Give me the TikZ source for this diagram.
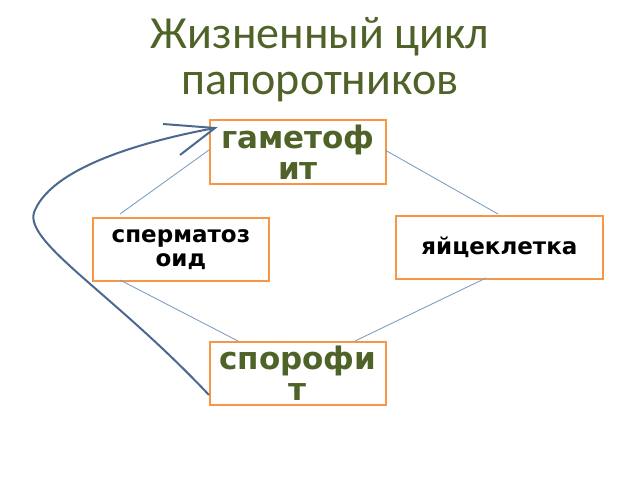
\documentclass[tikz,border=0pt]{standalone}
\usepackage{fontspec}
\setmainfont{DejaVu Sans}
\newfontfamily\titlefont{Carlito}
\definecolor{olive}{HTML}{4F6228}
\definecolor{boxor}{HTML}{F79646}
\definecolor{lncol}{HTML}{7F9FC4}
\definecolor{arr}{HTML}{4A6890}
\begin{document}
\begin{tikzpicture}[x=1pt,y=-1pt,
  bx/.style={draw=boxor,line width=1.8pt,fill=white,inner sep=0pt,align=center,font=\bfseries},
  ln/.style={draw=lncol,line width=0.9pt}]
\useasboundingbox (0,0) rectangle (640,480);
\node[text=olive,font=\titlefont\fontsize{46}{46}\selectfont,align=center] (title) at (320,60) {Жизненный цикл\\папоротников};
\node[bx,minimum width=176pt,minimum height=64pt,text=olive,font=\bfseries\fontsize{31}{31}\selectfont,anchor=north west,text width=176pt] (g) at (209,119) {гаметоф\\ит};
\node[bx,minimum width=176pt,minimum height=63pt,font=\bfseries\fontsize{23}{24}\selectfont,anchor=north west,text width=176pt] (s) at (92,217) {сперматоз\\оид};
\node[bx,minimum width=207pt,minimum height=63pt,font=\bfseries\fontsize{23}{24}\selectfont,anchor=north west] (e) at (395,215) {яйцеклетка};
\node[bx,minimum width=176pt,minimum height=63pt,text=olive,font=\bfseries\fontsize{31}{31}\selectfont,anchor=north west,text width=176pt] (p) at (209,341) {спорофи\\т};
\coordinate (g1) at (209,150); \coordinate (s1) at (120,214);
\coordinate (g2) at (385,150); \coordinate (e1) at (498,214);
\coordinate (s2) at (120,280); \coordinate (p1) at (238,341);
\coordinate (e2) at (486,278); \coordinate (p2) at (355,341);
\draw[ln] (g1) -- (s1);
\draw[ln] (g2) -- (e1);
\draw[ln] (s2) -- (p1);
\draw[ln] (e2) -- (p2);
\coordinate (ps) at (209,395); \coordinate (tip) at (215,128);
\coordinate (a1) at (163,124); \coordinate (a2) at (180,155);
\draw[arr,line width=2pt] (ps) .. controls (110,290) and (20,240) .. (35,210) .. controls (55,165) and (150,140) .. (tip);
\draw[arr,line width=2pt] (a1) -- (tip) -- (a2);
\end{tikzpicture}
\end{document}
